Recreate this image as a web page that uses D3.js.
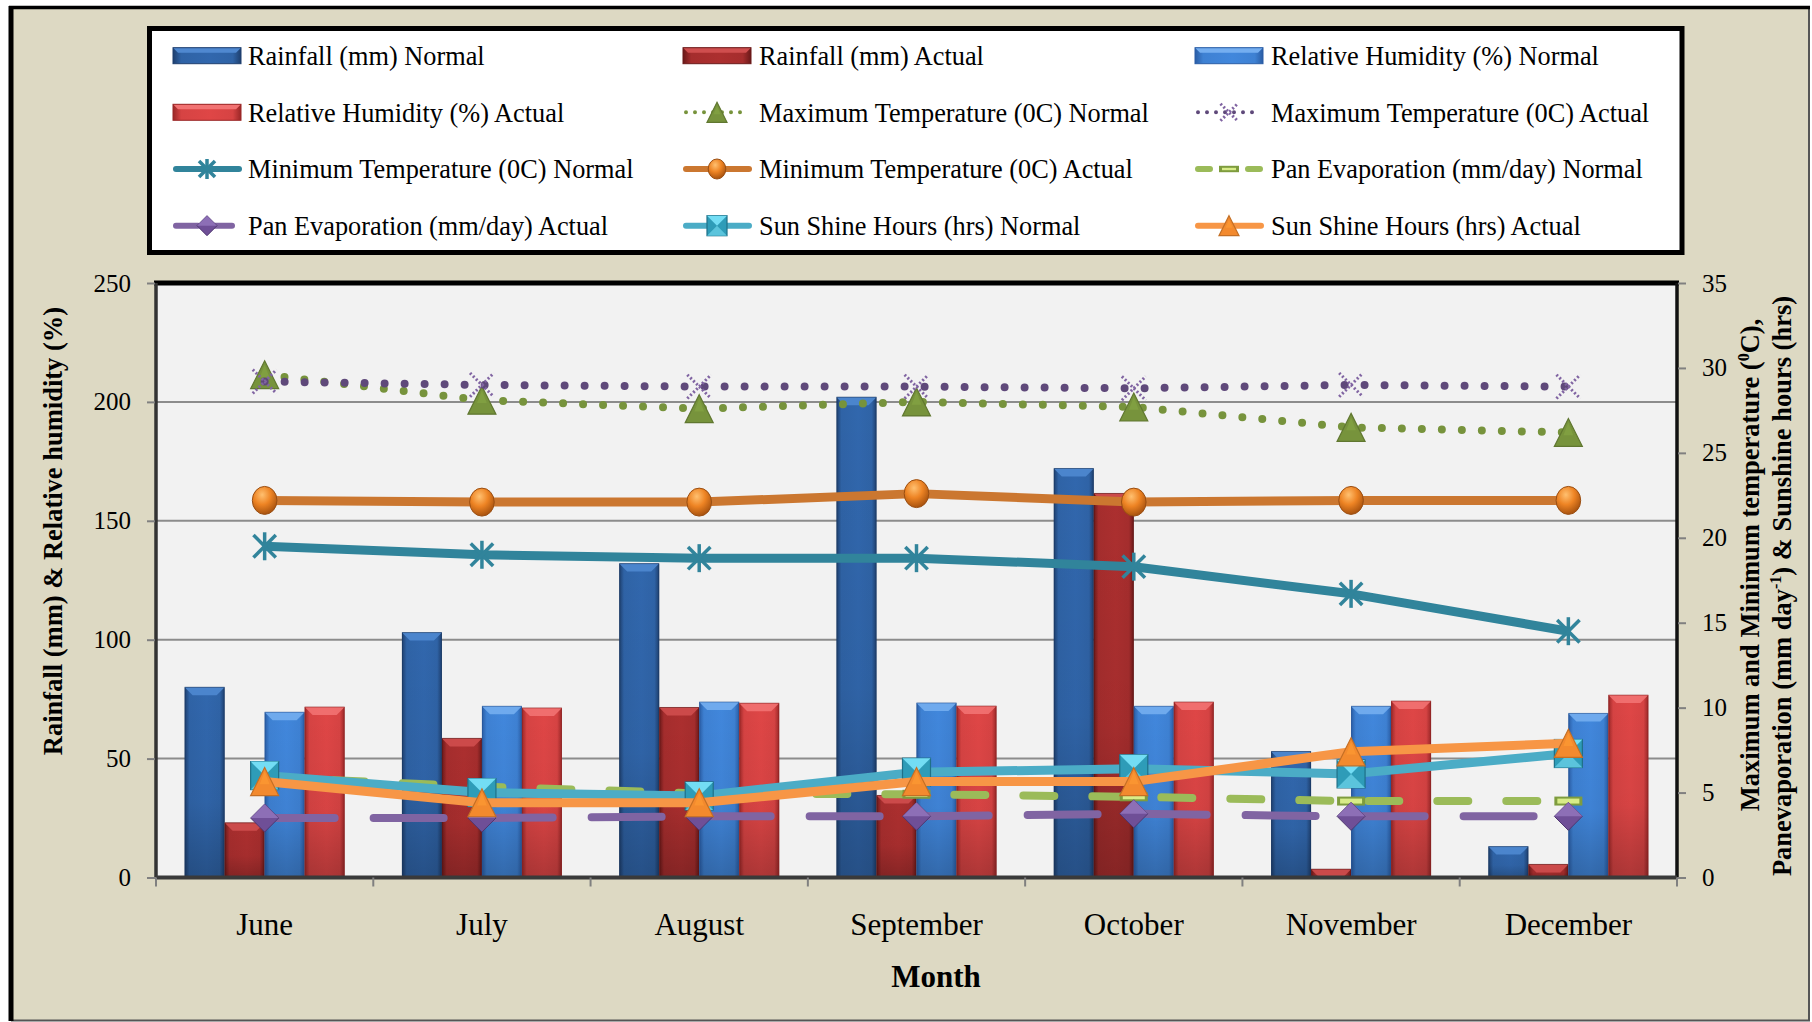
<!DOCTYPE html>
<html><head><meta charset="utf-8">
<script src="https://cdn.jsdelivr.net/npm/d3@7"></script>
<style>html,body{margin:0;padding:0;background:#fff;} svg{display:block;font-family:"Liberation Serif","Times New Roman",serif;}</style>
</head><body><svg id="c" width="1812" height="1022"></svg>
<script>
// ---------- data ----------
const months = ["June","July","August","September","October","November","December"];
const rainfallNormal = [80, 103, 132, 202, 172, 53, 13];
const rainfallActual = [23, 58.5, 71.5, 34.5, 161.5, 3.5, 5.5];
const rhNormal = [69.5, 72, 73.8, 73.4, 72, 72, 69];
const rhActual = [71.7, 71.3, 73.3, 72.1, 73.8, 74.2, 76.7];
const maxTempNormal = [29.6, 28.1, 27.6, 28.0, 27.7, 26.5, 26.2];
const maxTempActual = [29.2, 29.0, 28.9, 28.9, 28.8, 29.0, 28.9];
const minTempNormal = [19.5, 19.0, 18.8, 18.8, 18.3, 16.7, 14.5];
const minTempActual = [22.2, 22.1, 22.1, 22.6, 22.1, 22.2, 22.2];
const panEvapNormal = [5.9, 5.35, 4.95, 4.9, 4.75, 4.5, 4.5];
const panEvapActual = [3.5, 3.5, 3.6, 3.6, 3.75, 3.6, 3.6];
const sunNormal = [6.0, 5.0, 4.8, 6.2, 6.4, 6.1, 7.3];
const sunActual = [5.65, 4.4, 4.4, 5.65, 5.65, 7.4, 7.9];
const leftTicks = [0, 50, 100, 150, 200, 250];
const rightTicks = [0, 5, 10, 15, 20, 25, 30, 35];

const barSeries = [
  {key:"rfN", name:"Rainfall (mm) Normal", values: rainfallNormal, edge:"#1E3F6E", body:"#2F63A6", cap:"#4F88D0"},
  {key:"rfA", name:"Rainfall (mm) Actual", values: rainfallActual, edge:"#6A1919", body:"#A52D2D", cap:"#CF4E4E"},
  {key:"rhN", name:"Relative Humidity (%) Normal", values: rhNormal, edge:"#2A5DA5", body:"#3E81D3", cap:"#74AEF0"},
  {key:"rhA", name:"Relative Humidity (%) Actual", values: rhActual, edge:"#9A2727", body:"#D64343", cap:"#F27272"}
];
const lineSeries = [
  {name:"Maximum Temperature (0C) Normal", values:maxTempNormal, color:"#77933C", width:8, dash:"0 20", marker:"triangle", mcol:"#77933C"},
  {name:"Maximum Temperature (0C) Actual", values:maxTempActual, color:"#5F497A", width:8, dash:"0 20", marker:"x", mcol:"#8064A2"},
  {name:"Minimum Temperature (0C) Normal", values:minTempNormal, color:"#31849B", width:9, dash:null, marker:"asterisk", mcol:"#31849B"},
  {name:"Minimum Temperature (0C) Actual", values:minTempActual, color:"#CB7730", width:9, dash:null, marker:"circle", mcol:"#E8832A"},
  {name:"Pan Evaporation (mm/day) Normal", values:panEvapNormal, color:"#9BBB59", width:8, dash:"31 38", marker:"dashrect", mcol:"#9BBB59"},
  {name:"Pan Evaporation (mm/day) Actual", values:panEvapActual, color:"#8064A2", width:8, dash:"70 39", marker:"diamond", mcol:"#8064A2"},
  {name:"Sun Shine Hours (hrs) Normal", values:sunNormal, color:"#4BACC6", width:9, dash:null, marker:"square", mcol:"#4BACC6"},
  {name:"Sun Shine Hours (hrs) Actual", values:sunActual, color:"#F79646", width:9, dash:null, marker:"triangle", mcol:"#F38A2E"}
];

// ---------- layout ----------
const L = 156, R = 1677, T = 283, B = 877.5;
const svg = d3.select("#c");
const defs = svg.append("defs");

function grad(id, stops, vertical) {
  const g = defs.append("linearGradient").attr("id", id)
    .attr("x1", 0).attr("y1", 0).attr("x2", vertical ? 0 : 1).attr("y2", vertical ? 1 : 0);
  stops.forEach(s => g.append("stop").attr("offset", s[0]).attr("stop-color", s[1]).attr("stop-opacity", s[2] == null ? 1 : s[2]));
}
barSeries.forEach(s => {
  grad("g_" + s.key, [[0, s.edge], [0.12, s.body], [0.55, d3.color(s.body).brighter(0.12)], [0.88, s.body], [1, s.edge]]);
});
grad("shadeV", [[0, "#000", 0], [0.6, "#000", 0.04], [1, "#000", 0.22]], true);
const rg = defs.append("radialGradient").attr("id", "orangeBall").attr("cx", 0.4).attr("cy", 0.3).attr("r", 0.7);
rg.append("stop").attr("offset", 0).attr("stop-color", "#FFC070");
rg.append("stop").attr("offset", 0.5).attr("stop-color", "#EE8424");
rg.append("stop").attr("offset", 1).attr("stop-color", "#A9530F");

// outer frame
svg.append("rect").attr("x", 11).attr("y", 7).attr("width", 1798).attr("height", 1013).attr("fill", "#DDD9C3");
svg.append("line").attr("x1", 1809).attr("x2", 1809).attr("y1", 7).attr("y2", 1021).attr("stroke", "#555").attr("stroke-width", 2);
svg.append("line").attr("x1", 11).attr("x2", 1810).attr("y1", 1020.5).attr("y2", 1020.5).attr("stroke", "#555").attr("stroke-width", 2);
svg.append("line").attr("x1", 11).attr("x2", 11).attr("y1", 6).attr("y2", 1021).attr("stroke", "#000").attr("stroke-width", 5);
svg.append("line").attr("x1", 9).attr("x2", 1810).attr("y1", 7.5).attr("y2", 7.5).attr("stroke", "#000").attr("stroke-width", 3.5);

// scales
const x0 = d3.scaleBand().domain(months).range([L, R]).padding(0);
const x1 = d3.scaleBand().domain(barSeries.map(s => s.key)).range([0, x0.bandwidth()]).paddingInner(0).paddingOuter(0.716);
const yL = d3.scaleLinear().domain([0, 250]).range([B, T]);
const yR = d3.scaleLinear().domain([0, 35]).range([B, T]);
const cx = m => x0(m) + x0.bandwidth() / 2;

// plot area
svg.append("rect").attr("x", L).attr("y", T).attr("width", R - L).attr("height", B - T).attr("fill", "#F2F2F2");
svg.append("g").selectAll("line").data(leftTicks.filter(t => t > 0 && t < 250)).join("line")
  .attr("x1", L).attr("x2", R).attr("y1", d => yL(d)).attr("y2", d => yL(d))
  .attr("stroke", "#8C8C8C").attr("stroke-width", 2);

// bars
const gb = svg.append("g");
months.forEach((m, i) => {
  barSeries.forEach(s => {
    const v = s.values[i];
    const x = x0(m) + x1(s.key), w = x1.bandwidth(), y = yL(v), h = B - yL(v);
    gb.append("rect").attr("x", x).attr("y", y).attr("width", w).attr("height", h).attr("fill", `url(#g_${s.key})`);
    gb.append("rect").attr("x", x).attr("y", y).attr("width", w).attr("height", h).attr("fill", "url(#shadeV)");
    const c = Math.min(8, h);
    gb.append("polygon").attr("points", `${x},${y} ${x + w},${y} ${x + w - c},${y + c} ${x + c},${y + c}`).attr("fill", s.cap).attr("opacity", 0.9);
    gb.append("rect").attr("x", x + 0.5).attr("y", y).attr("width", w - 1).attr("height", h).attr("fill", "none").attr("stroke", d3.color(s.edge).darker(0.3)).attr("stroke-width", 1).attr("stroke-opacity", 0.6);
  });
});

// markers
function marker(g, type, x, y, s, col) {
  const h = s / 2;
  if (type === "triangle") {
    g.append("polygon").attr("points", `${x},${y - h} ${x + h},${y + h} ${x - h},${y + h}`)
      .attr("fill", col).attr("stroke", d3.color(col).darker(0.6)).attr("stroke-width", 1.2);
    g.append("polygon").attr("points", `${x},${y - h + 4} ${x + h * 0.35},${y + h * 0.2} ${x - h * 0.35},${y + h * 0.2}`)
      .attr("fill", d3.color(col).brighter(0.35)).attr("opacity", 0.6);
  } else if (type === "x") {
    const k = h * 0.85;
    [[-k, -k, k, k], [-k, k, k, -k]].forEach(p => g.append("line").attr("x1", x + p[0]).attr("y1", y + p[1]).attr("x2", x + p[2]).attr("y2", y + p[3])
      .attr("stroke", col).attr("stroke-width", 3).attr("stroke-dasharray", "2 2.2"));
  } else if (type === "asterisk") {
    const k = h * 0.8;
    [[0, -h, 0, h], [-k, -k, k, k], [-k, k, k, -k]].forEach(p => g.append("line").attr("x1", x + p[0]).attr("y1", y + p[1]).attr("x2", x + p[2]).attr("y2", y + p[3])
      .attr("stroke", col).attr("stroke-width", 3.5));
  } else if (type === "circle") {
    g.append("ellipse").attr("cx", x).attr("cy", y).attr("rx", h * 0.88).attr("ry", h).attr("fill", "url(#orangeBall)").attr("stroke", "#9A4E12").attr("stroke-width", 1);
  } else if (type === "dashrect") {
    g.append("rect").attr("x", x - h).attr("y", y - s * 0.16).attr("width", s).attr("height", s * 0.32).attr("fill", "#7E9C3E");
    g.append("rect").attr("x", x - h + 3).attr("y", y - s * 0.16 + 2).attr("width", s - 6).attr("height", s * 0.32 - 4).attr("fill", "#D8EC88");
  } else if (type === "diamond") {
    g.append("polygon").attr("points", `${x},${y - h} ${x + h},${y} ${x},${y + h} ${x - h},${y}`).attr("fill", "#6F4F97").attr("stroke", "#4F3670").attr("stroke-width", 1);
    g.append("polygon").attr("points", `${x},${y - h} ${x + h},${y} ${x - h},${y}`).attr("fill", "#9577BE").attr("opacity", 0.8);
  } else if (type === "square") {
    g.append("rect").attr("x", x - h).attr("y", y - h).attr("width", s).attr("height", s).attr("fill", "#2E9CB8").attr("stroke", "#1F7088").attr("stroke-width", 1.2);
    g.append("polygon").attr("points", `${x - h},${y - h} ${x + h},${y - h} ${x},${y}`).attr("fill", "#73DDF4");
    g.append("polygon").attr("points", `${x - h},${y + h} ${x + h},${y + h} ${x},${y}`).attr("fill", "#5BC4DC");
  }
}

// lines
const line = d3.line().x(d => d[0]).y(d => d[1]);
lineSeries.forEach(s => {
  const pts = months.map((m, i) => [cx(m), yR(s.values[i])]);
  const g = svg.append("g");
  g.append("path").attr("d", line(pts)).attr("fill", "none").attr("stroke", s.color).attr("stroke-width", s.width)
    .attr("stroke-linecap", s.dash ? "round" : "butt").attr("stroke-linejoin", "round")
    .attr("stroke-dasharray", s.dash);
  pts.forEach(p => marker(g, s.marker, p[0], p[1], 28, s.mcol));
});

// axes frame
svg.append("line").attr("x1", L - 2).attr("x2", R + 2).attr("y1", T).attr("y2", T).attr("stroke", "#000").attr("stroke-width", 5);
svg.append("line").attr("x1", L).attr("x2", L).attr("y1", T).attr("y2", B).attr("stroke", "#333").attr("stroke-width", 3.5);
svg.append("line").attr("x1", R).attr("x2", R).attr("y1", T).attr("y2", B).attr("stroke", "#111").attr("stroke-width", 3.5);
svg.append("line").attr("x1", L).attr("x2", R).attr("y1", B).attr("y2", B).attr("stroke", "#3A3A3A").attr("stroke-width", 4);

// left axis
const axL = svg.append("g").attr("transform", `translate(${L - 1},0)`)
  .call(d3.axisLeft(yL).tickValues(leftTicks).tickSize(8).tickPadding(16));
// right axis
const axR = svg.append("g").attr("transform", `translate(${R + 1},0)`)
  .call(d3.axisRight(yR).tickValues(rightTicks).tickSize(8).tickPadding(16));
// bottom axis (tick marks between months)
const axB = svg.append("g").attr("transform", `translate(0,${B})`)
  .call(d3.axisBottom(x0).tickSize(0).tickPadding(35));
[axL, axR, axB].forEach(a => { a.select(".domain").remove(); a.selectAll("line").attr("stroke", "#808080").attr("stroke-width", 2); });
axL.selectAll("text").attr("font-size", 25).attr("font-family", "Liberation Serif").attr("fill", "#000");
axR.selectAll("text").attr("font-size", 25).attr("font-family", "Liberation Serif").attr("fill", "#000");
axB.selectAll("text").attr("font-size", 31).attr("font-family", "Liberation Serif").attr("fill", "#000");
svg.append("g").selectAll("line").data(months.map(m => x0(m)).concat([R])).join("line")
  .attr("x1", d => d).attr("x2", d => d).attr("y1", B).attr("y2", B + 9).attr("stroke", "#808080").attr("stroke-width", 2);

// axis titles
svg.append("text").attr("x", 810 * 1812 / 1568).attr("y", 987).attr("text-anchor", "middle")
  .attr("font-size", 31).attr("font-weight", "bold").text("Month");
svg.append("text").attr("transform", "translate(62,531) rotate(-90)").attr("text-anchor", "middle")
  .attr("font-size", 26.5).attr("font-weight", "bold").text("Rainfall (mm) & Relative humidity (%)");
const t1 = svg.append("text").attr("transform", "translate(1759,565) rotate(-90)").attr("text-anchor", "middle")
  .attr("font-size", 26.5).attr("font-weight", "bold");
t1.append("tspan").text("Maximum and Minimum temperature (");
t1.append("tspan").attr("font-size", 16).attr("dy", -10).text("0");
t1.append("tspan").attr("dy", 10).text("C),");
const t2 = svg.append("text").attr("transform", "translate(1791,586) rotate(-90)").attr("text-anchor", "middle")
  .attr("font-size", 26.5).attr("font-weight", "bold");
t2.append("tspan").text("Panevaporation (mm day");
t2.append("tspan").attr("font-size", 16).attr("dy", -10).text("-1");
t2.append("tspan").attr("dy", 10).text(") & Sunshine hours (hrs)");

// legend
svg.append("rect").attr("x", 149.5).attr("y", 28.5).attr("width", 1532.5).attr("height", 224).attr("fill", "#fff").attr("stroke", "#000").attr("stroke-width", 5);
const colX = [173, 683, 1195], textX = [248, 759, 1271], rowY = [55.7, 112.3, 169, 225.7];
const legendItems = barSeries.map(s => ({type:"bar", s})).concat(lineSeries.map(s => ({type:"line", s})));
legendItems.forEach((it, i) => {
  const r = Math.floor(i / 3), c = i % 3;
  const x = colX[c], y = rowY[r], g = svg.append("g");
  if (it.type === "bar") {
    const s = it.s;
    g.append("rect").attr("x", x).attr("y", y - 8).attr("width", 68).attr("height", 16).attr("fill", `url(#g_${s.key})`);
    g.append("polygon").attr("points", `${x},${y - 8} ${x + 68},${y - 8} ${x + 63},${y - 3} ${x + 5},${y - 3}`).attr("fill", s.cap);
    g.append("rect").attr("x", x).attr("y", y - 8).attr("width", 68).attr("height", 16).attr("fill", "none").attr("stroke", s.edge).attr("stroke-width", 1);
  } else {
    const s = it.s;
    let dash = null, w = 6, cap = "round";
    if (s.dash === "0 20") { dash = "0 9"; w = 4; }
    else if (s.dash === "31 38") { dash = "12 13"; w = 6; }
    else if (s.dash === "70 39") { dash = "22 12"; w = 6; }
    g.append("line").attr("x1", x + 3).attr("x2", x + 66).attr("y1", y).attr("y2", y).attr("stroke", s.color)
      .attr("stroke-width", w).attr("stroke-linecap", cap).attr("stroke-dasharray", dash);
    marker(g, s.marker, x + 34, y, 20, s.mcol);
  }
  svg.append("text").attr("x", textX[c]).attr("y", y).attr("dy", "0.35em").attr("font-size", 26.3).text(it.s.name);
});
</script></body></html>
